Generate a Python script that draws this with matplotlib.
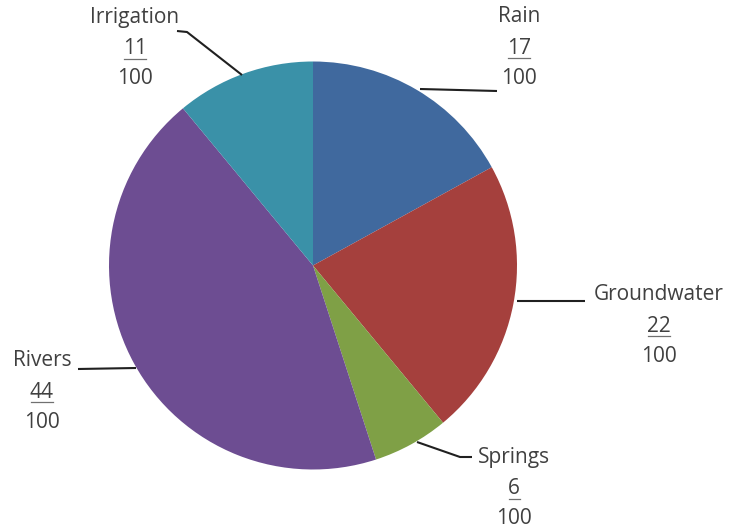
import matplotlib
matplotlib.use("Agg")
import matplotlib.pyplot as plt

categories = ["Rain", "Groundwater", "Springs", "Rivers", "Irrigation"]
values = [17, 22, 6, 44, 11]
denominator = 100
colors = ["#40699E", "#A5403D", "#7FA046", "#6D4D92", "#3A91A8"]

plt.rcParams['font.family'] = ['Open Sans', 'DejaVu Sans']

W, H = 731, 529
fig = plt.figure(figsize=(W / 100, H / 100), dpi=100)
ax = fig.add_axes([0, 0, 1, 1])

cx, cy, r = 313, 265.5, 204
# y axis is inverted, so startangle -90 points up on screen and
# counterclockwise in data space runs clockwise on screen
ax.pie(values, colors=colors, startangle=-90, counterclock=True,
       center=(cx, cy), radius=r, frame=True,
       wedgeprops=dict(linewidth=0))
ax.set_xlim(0, W)
ax.set_ylim(H, 0)
ax.set_aspect('equal')
ax.axis('off')

txt_color = "#404040"
fs = 15
label_pos = {
    "Rain": (519, 17),
    "Groundwater": (659, 295),
    "Springs": (514, 458),
    "Rivers": (42, 361),
    "Irrigation": (135, 18),
}
leaders = {
    "Rain": [(497, 91), (420, 89)],
    "Groundwater": [(585, 301), (517, 301)],
    "Springs": [(472, 457), (460, 457), (417, 442)],
    "Rivers": [(78, 369), (136, 368)],
    "Irrigation": [(177, 31), (187, 32), (242, 75)],
}
for cat, v in zip(categories, values):
    x, y = label_pos[cat]
    ax.text(x, y, cat, ha='center', va='center', fontsize=fs, color=txt_color)
    ax.text(x, y + 31, str(v), ha='center', va='center', fontsize=fs, color=txt_color)
    w = 11 * len(str(v))
    ax.plot([x - w / 2, x + w / 2], [y + 41, y + 41], color="#707070", lw=0.9)
    ax.text(x, y + 61, str(denominator), ha='center', va='center', fontsize=fs, color=txt_color)
    pts = leaders[cat]
    ax.plot([p[0] for p in pts], [p[1] for p in pts], color="#202020", lw=1.5,
            solid_capstyle='butt')

fig.savefig("out.png", dpi=100, facecolor="white")
